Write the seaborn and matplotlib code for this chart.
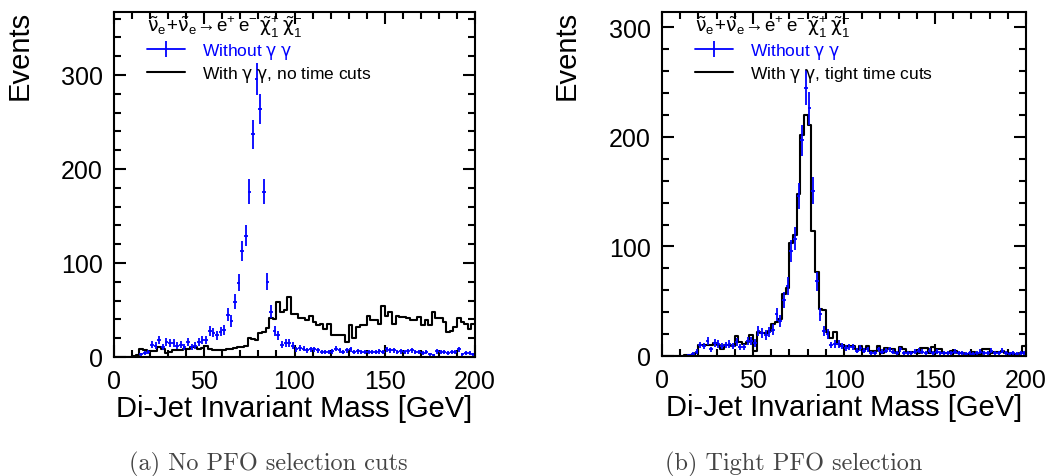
import numpy as np
import pandas as pd
import matplotlib
matplotlib.use("Agg")
import matplotlib.pyplot as plt
from matplotlib.lines import Line2D
from matplotlib.ticker import MultipleLocator
import seaborn as sns

# 100 bins of 2 GeV between 0 and 200 GeV
bin_edges = np.arange(0, 202, 2)
bin_centers = bin_edges[:-1] + 1

# (a) no PFO selection cuts
without_gg_a = [
    0, 0, 0, 0, 0, 0, 0, 3, 4, 5,
    13, 12, 18, 11, 16, 15, 15, 12, 13, 11,
    16, 11, 12, 16, 18, 18, 28, 26, 23, 27,
    29, 45, 38, 59, 79, 113, 129, 176, 237, 296,
    264, 176, 80, 48, 28, 23, 13, 15, 15, 12,
    8, 10, 9, 7, 8, 8, 7, 5, 5, 5,
    6, 9, 7, 5, 7, 8, 5, 6, 5, 5,
    5, 5, 5, 6, 5, 8, 7, 7, 5, 6,
    5, 6, 7, 5, 5, 4, 5, 3, 2, 6,
    5, 5, 4, 5, 5, 8, 3, 4, 4, 3,
]
with_gg_a = [
    0, 0, 0, 0, 0, 1, 2, 8, 7, 6,
    6, 6, 11, 9, 4, 5, 7, 7, 7, 8,
    9, 11, 11, 8, 10, 12, 8, 7, 7, 7,
    7, 8, 8, 10, 11, 11, 12, 20, 19, 18,
    26, 27, 31, 41, 40, 58, 48, 50, 64, 46,
    46, 41, 41, 39, 44, 37, 34, 35, 30, 35,
    23, 23, 23, 23, 16, 34, 20, 32, 34, 34,
    44, 39, 39, 35, 54, 44, 48, 35, 44, 43,
    43, 41, 39, 39, 43, 34, 39, 34, 48, 41,
    41, 37, 27, 28, 32, 41, 37, 35, 30, 35,
]

# (b) tight PFO selection
without_gg_b = [
    0, 0, 0, 0, 0, 0, 0, 1, 2, 4,
    10, 9, 14, 6, 12, 11, 9, 10, 11, 9,
    13, 8, 8, 14, 14, 12, 23, 21, 19, 22,
    24, 38, 32, 51, 64, 96, 107, 146, 197, 245,
    226, 151, 68, 38, 23, 20, 10, 11, 11, 9,
    7, 8, 8, 5, 7, 5, 6, 3, 3, 6,
    4, 5, 6, 4, 3, 6, 3, 3, 3, 4,
    5, 4, 3, 5, 3, 4, 3, 3, 3, 3,
    4, 3, 3, 2, 3, 2, 3, 4, 3, 3,
    5, 3, 3, 5, 3, 2, 3, 2, 3, 3,
]
with_gg_b = [
    0, 0, 0, 0, 0, 0, 1, 1, 1, 3,
    10, 10, 10, 10, 12, 10, 6, 10, 10, 9,
    18, 13, 11, 13, 19, 5, 22, 21, 21, 23,
    29, 31, 34, 57, 62, 103, 110, 148, 202, 220,
    211, 114, 77, 43, 42, 22, 16, 22, 11, 9,
    9, 9, 9, 6, 9, 6, 9, 5, 5, 9,
    3, 7, 6, 6, 3, 8, 6, 4, 4, 4,
    3, 7, 7, 3, 8, 6, 6, 3, 3, 5,
    5, 3, 3, 2, 2, 4, 2, 2, 6, 6,
    3, 4, 4, 5, 3, 3, 2, 2, 3, 9,
]

process_label = (r"$\tilde{\nu}_{\rm e}\!+\!\tilde{\nu}_{\rm e}\!\rightarrow\!"
                 r"{\rm e}^{+}\,{\rm e}^{-}\,\tilde{\chi}^{+}_{1}\,\tilde{\chi}^{-}_{1}$")
label_without = r"Without $\gamma\;\gamma$"
labels_with = [r"With $\gamma\;\gamma$, no time cuts",
               r"With $\gamma\;\gamma$, tight time cuts"]
captions = ["(a) No PFO selection cuts", "(b) Tight PFO selection"]
x_title = "Di-Jet Invariant Mass [GeV]"
y_title = "Events"
y_max = [367, 314]

sns.set_style("ticks")
plt.rcParams["font.family"] = ["Liberation Sans", "DejaVu Sans"]
plt.rcParams["text.color"] = "black"
plt.rcParams["axes.labelcolor"] = "black"
plt.rcParams["mathtext.fontset"] = "custom"
plt.rcParams["mathtext.rm"] = "Liberation Sans"
plt.rcParams["mathtext.it"] = "DejaVu Sans"
plt.rcParams["mathtext.bf"] = "Liberation Sans:bold"
plt.rcParams["mathtext.sf"] = "Liberation Sans"

fig = plt.figure(figsize=(10.48, 4.77), dpi=100)
ax_a = fig.add_axes([0.1088, 0.2495, 0.3445, 0.7233])
ax_b = fig.add_axes([0.6317, 0.2516, 0.3473, 0.7212])

panels = [
    (ax_a, without_gg_a, with_gg_a, labels_with[0], y_max[0], captions[0], 0.256),
    (ax_b, without_gg_b, with_gg_b, labels_with[1], y_max[1], captions[1], 0.757),
]

for ax, blue_vals, black_vals, lab_with, ymax, caption, cap_x in panels:
    df = pd.DataFrame({"mass": bin_centers.astype(float),
                       "without": np.asarray(blue_vals, float),
                       "with": np.asarray(black_vals, float)})
    # photon-photon overlay sample as a step histogram
    sns.histplot(data=df, x="mass", weights="with", binwidth=2,
                 binrange=(0, 200), element="step", fill=False,
                 color="black", linewidth=1.5, ax=ax)
    # clean sample as points with Poisson errors
    pts = df[df["without"] > 0]
    ax.errorbar(pts["mass"], pts["without"], xerr=1.0,
                yerr=np.sqrt(pts["without"]), fmt="none",
                ecolor="#0000ff", elinewidth=1.3, capsize=0)

    ax.set_xlim(0, 200)
    ax.set_ylim(0, ymax)
    ax.xaxis.set_major_locator(MultipleLocator(50))
    ax.xaxis.set_minor_locator(MultipleLocator(10))
    ax.yaxis.set_major_locator(MultipleLocator(100))
    ax.yaxis.set_minor_locator(MultipleLocator(20))
    ax.tick_params(which="both", direction="in", top=True, right=True,
                   width=1.5, colors="black", labelsize=18)
    ax.tick_params(which="major", length=8.5, pad=8)
    ax.tick_params(axis="x", which="major", pad=9)
    ax.tick_params(which="minor", length=5)
    for sp in ax.spines.values():
        sp.set_linewidth(1.5)
        sp.set_color("black")

    ax.set_xlabel(x_title, fontsize=21)
    ax.xaxis.set_label_coords(0.5, -0.108)
    ax.set_ylabel(y_title, fontsize=21, loc="top")
    ax.yaxis.set_label_coords(-0.224, 1.005)

    handles = [
        Line2D([], [], color="#0000ff", lw=1.3, marker="|", markersize=11,
               markeredgewidth=1.3),
        Line2D([], [], color="black", lw=1.5),
    ]
    leg = ax.legend(handles, [label_without, lab_with], title=process_label,
                    loc="upper left", bbox_to_anchor=(0.09, 0.995),
                    frameon=False, fontsize=12.5, title_fontsize=13.5,
                    alignment="left", handlelength=2.2, handletextpad=1.0,
                    labelspacing=0.15, borderpad=0, borderaxespad=0)
    leg.get_texts()[0].set_color("#0000ff")
    leg.get_texts()[1].set_color("black")
    leg.get_title().set_color("black")

    fig.text(cap_x, 0.013, caption, family="cmr10", fontsize=17.5,
             color="#444444", ha="center", va="baseline")

fig.savefig("out.png", dpi=100)
